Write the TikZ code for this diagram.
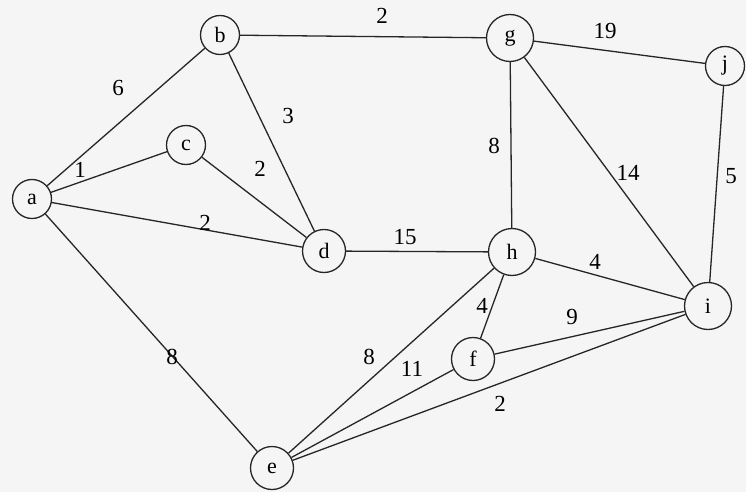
\documentclass[tikz,border=0pt]{standalone}
\usepackage{fontspec}
\setmainfont{Liberation Serif}
\begin{document}
\begin{tikzpicture}[x=1pt,y=-1pt,
  vtx/.style={circle,draw=black!85,line width=1.3pt,fill=black!4,inner sep=0pt,font=\fontsize{22}{24}\selectfont},
  sm/.style={vtx,minimum size=39pt},
  md/.style={vtx,minimum size=43pt},
  lg/.style={vtx,minimum size=47pt},
  edg/.style={draw=black!85,line width=1.3pt},
  lbl/.style={inner sep=0pt,font=\fontsize{23}{25}\selectfont}]
\fill[black!4] (0,0) rectangle (746,492);
\useasboundingbox (0,0) rectangle (746,492);
% vertices
\node[sm] (a) at (32,199) {a};
\node[sm] (b) at (220,35) {b};
\node[sm] (c) at (186,145) {c};
\node[md] (d) at (324,251) {d};
\node[md] (e) at (272,468) {e};
\node[md] (f) at (473,359) {f};
\node[lg] (g) at (510,38) {g};
\node[lg] (h) at (512,252) {h};
\node[lg] (i) at (708,306) {i};
\node[sm] (j) at (725,66) {j};
% edges
\draw[edg] (a) -- (b);
\draw[edg] (a) -- (c);
\draw[edg] (a) -- (d);
\draw[edg] (a) -- (e);
\draw[edg] (b) -- (g);
\draw[edg] (b) -- (d);
\draw[edg] (c) -- (d);
\draw[edg] (d) -- (h);
\draw[edg] (g) -- (j);
\draw[edg] (g) -- (h);
\draw[edg] (g) -- (i);
\draw[edg] (j) -- (i);
\draw[edg] (h) -- (i);
\draw[edg] (h) -- (f);
\draw[edg] (h) -- (e);
\draw[edg] (f) -- (i);
\draw[edg] (f) -- (e);
\draw[edg] (e) -- (i);
% weights
\node[lbl] (wab) at (118,88) {6};
\node[lbl] (wac) at (80,170) {1};
\node[lbl] (wad) at (205,223) {2};
\node[lbl] (wae) at (172,357) {8};
\node[lbl] (wbg) at (382,16) {2};
\node[lbl] (wbd) at (288,116) {3};
\node[lbl] (wcd) at (260,169) {2};
\node[lbl] (wdh) at (405,237) {15};
\node[lbl] (wgj) at (605,31) {19};
\node[lbl] (wgh) at (494,146) {8};
\node[lbl] (wgi) at (628,173) {14};
\node[lbl] (wji) at (731,176) {5};
\node[lbl] (whi) at (595,262) {4};
\node[lbl] (whf) at (482,306) {4};
\node[lbl] (whe) at (369,357) {8};
\node[lbl] (wfi) at (572,317) {9};
\node[lbl] (wfe) at (412,369) {11};
\node[lbl] (wei) at (500,404) {2};
\end{tikzpicture}
\end{document}
